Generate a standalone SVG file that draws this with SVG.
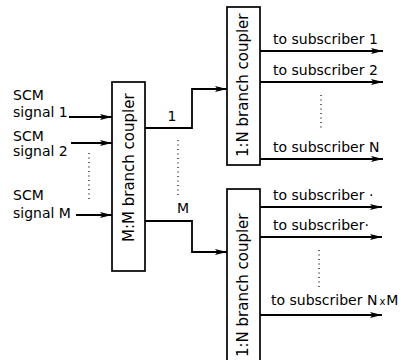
<svg xmlns="http://www.w3.org/2000/svg" width="406" height="360" viewBox="0 0 406 360">
<style>
.box{fill:#fff;stroke:#000;stroke-width:1.7}
.ln{fill:none;stroke:#000;stroke-width:1.8}
.dot{fill:none;stroke:#000;stroke-width:1.2;stroke-dasharray:1 3.5}
text{font-family:"DejaVu Sans","Liberation Sans",sans-serif;fill:#000}
.t{font-size:14px}
.r{font-size:15px}
</style>
<defs>
<marker id="ah" viewBox="0 0 12 7" refX="12" refY="3.5" markerWidth="12" markerHeight="7" markerUnits="userSpaceOnUse" orient="auto">
<path d="M0,0.5 L12,3.5 L0,6.5 L2.5,3.5 z" fill="#000"/>
</marker>
</defs>
<rect width="406" height="360" fill="#fff"/>
<g id="connectors">
<path class="ln" d="M69,117 H112" marker-end="url(#ah)"/>
<path class="ln" d="M71,143 H112" marker-end="url(#ah)"/>
<path class="ln" d="M76,215 H112" marker-end="url(#ah)"/>
<path class="dot" d="M89,153 V202"/>
<path class="ln" d="M145,128 H192 V89 H227" marker-end="url(#ah)"/>
<path class="ln" d="M145,221 H192 V252 H227" marker-end="url(#ah)"/>
<path class="dot" d="M178,140 V195"/>
<text class="t" x="172" y="121" text-anchor="middle">1</text>
<text class="t" x="183" y="213" text-anchor="middle">M</text>
<path class="ln" d="M260,51 H383" marker-end="url(#ah)"/>
<path class="ln" d="M260,82 H383" marker-end="url(#ah)"/>
<path class="ln" d="M260,159 H383" marker-end="url(#ah)"/>
<path class="dot" d="M321,95 V128"/>
<path class="ln" d="M260,207 H382" marker-end="url(#ah)"/>
<path class="ln" d="M260,237 H382" marker-end="url(#ah)"/>
<path class="ln" d="M260,315 H382" marker-end="url(#ah)"/>
<path class="dot" d="M319,250 V287"/>
</g>
<g id="inputs">
<text class="t" x="13" y="100">SCM</text>
<text class="t" x="13" y="117">signal 1</text>
<text class="t" x="13" y="141">SCM</text>
<text class="t" x="13" y="156">signal 2</text>
<text class="t" x="13" y="200">SCM</text>
<text class="t" x="13" y="218">signal M</text>
</g>
<g id="mm-coupler">
<rect class="box" x="112" y="82" width="33" height="189"/>
<text class="r" transform="translate(134,242) rotate(-90)">M:M branch coupler</text>
</g>
<g id="coupler-1">
<rect class="box" x="227" y="7" width="33" height="158"/>
<text class="r" transform="translate(248,157) rotate(-90)">1:N branch coupler</text>
</g>
<g id="coupler-2">
<rect class="box" x="227" y="189" width="33" height="175"/>
<text class="r" transform="translate(248,357) rotate(-90)">1:N branch coupler</text>
</g>
<g id="outputs">
<text class="t" x="273" y="44">to subscriber 1</text>
<text class="t" x="273" y="75">to subscriber 2</text>
<text class="t" x="273" y="152">to subscriber N</text>
<text class="t" x="273" y="200">to subscriber ·</text>
<text class="t" x="273" y="230">to subscriber·</text>
<text class="t" x="271" y="305">to subscriber <tspan>N</tspan><tspan font-size="10" dx="2">x</tspan><tspan dx="1">M</tspan></text>
</g>
</svg>
